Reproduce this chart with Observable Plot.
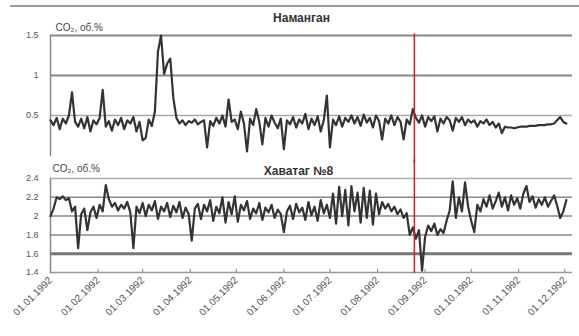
<!DOCTYPE html>
<html><head><meta charset="utf-8">
<script src="https://cdn.jsdelivr.net/npm/d3@7"></script>
<script src="https://cdn.jsdelivr.net/npm/@observablehq/plot@0.6"></script>
<style>
body{margin:0;background:#fff;font-family:"Liberation Sans",Arial,sans-serif;}
#wrap{position:relative;width:579px;height:336px;overflow:hidden;background:#fff;}
#border{position:absolute;left:10px;top:5px;width:569px;height:2px;background:#9a9a9a;z-index:3;}
#top,#bot{position:absolute;left:0;}
#top{top:0;z-index:1}
#bot{top:160px;z-index:2}
</style></head><body>
<div id="wrap"><div id="border"></div><div id="top"></div><div id="bot"></div></div>
<script>
const titles = ["Наманган", "Хаватаг №8"];
const yLabel = "CO₂, об.%";
const startDate = "1992-01-01";
const stepDays = 2;
const xDomain = ["1992-01-01", "1992-12-06"];
const eventDate = "1992-08-25";
const monthTicks = ["1992-01-01","1992-02-01","1992-03-01","1992-04-01","1992-05-01","1992-06-01",
  "1992-07-01","1992-08-01","1992-09-01","1992-10-01","1992-11-01","1992-12-01"];
const topTicks = [0.5, 1, 1.5];
const botTicks = [1.4, 1.6, 1.8, 2.0, 2.2, 2.4];

const namangan = [
  0.44,0.38,0.47,0.33,0.46,0.40,0.50,0.79,0.42,0.36,
  0.46,0.34,0.48,0.30,0.44,0.39,0.47,0.82,0.36,0.43,
  0.31,0.45,0.38,0.47,0.33,0.44,0.40,0.48,0.30,0.42,
  0.19,0.22,0.45,0.37,0.55,1.30,1.50,1.02,1.15,1.21,
  0.72,0.47,0.40,0.44,0.38,0.43,0.41,0.45,0.39,0.42,
  0.44,0.10,0.43,0.37,0.47,0.40,0.50,0.36,0.70,0.42,
  0.45,0.33,0.55,0.40,0.05,0.46,0.38,0.58,0.42,0.14,
  0.47,0.36,0.50,0.41,0.34,0.46,0.08,0.44,0.39,0.48,
  0.35,0.45,0.40,0.52,0.33,0.46,0.38,0.49,0.30,0.44,
  0.75,0.10,0.45,0.38,0.49,0.36,0.47,0.42,0.50,0.40,
  0.48,0.37,0.51,0.41,0.47,0.35,0.50,0.43,0.20,0.46,
  0.40,0.50,0.38,0.48,0.42,0.20,0.45,0.39,0.58,0.47,
  0.41,0.50,0.36,0.48,0.43,0.49,0.30,0.46,0.40,0.48,
  0.44,0.31,0.47,0.42,0.48,0.38,0.45,0.41,0.44,0.36,
  0.43,0.40,0.45,0.38,0.42,0.35,0.40,0.28,0.36,0.35,
  0.35,0.34,0.35,0.36,0.36,0.36,0.37,0.37,0.37,0.38,
  0.38,0.38,0.39,0.39,0.40,0.44,0.48,0.42,0.40
];
const khavatag = [
  2.00,2.08,2.20,2.18,2.21,2.17,2.19,2.05,2.10,1.66,
  2.02,2.08,1.85,2.04,2.10,1.98,2.12,2.05,2.33,2.18,
  2.10,2.14,2.06,2.12,2.08,2.15,2.04,1.66,2.10,2.03,
  2.14,2.00,2.12,2.06,2.16,1.97,2.10,2.05,2.14,1.99,
  2.11,2.04,2.15,1.98,2.09,2.02,1.74,2.08,2.13,1.97,
  2.12,2.05,2.17,1.95,2.10,2.03,2.20,1.93,2.15,2.02,
  2.21,1.94,2.12,2.06,2.16,1.97,2.08,2.03,2.14,1.96,
  2.09,2.04,2.12,1.98,2.07,2.02,1.83,2.05,2.11,1.97,
  2.13,2.04,2.09,1.96,2.15,2.01,2.10,1.95,2.17,2.03,
  2.12,1.98,2.24,1.92,2.31,2.00,2.28,1.90,2.32,2.05,
  2.25,1.93,2.30,1.98,2.27,1.91,2.24,2.02,2.15,2.08,
  2.13,2.05,2.10,2.02,2.07,1.98,2.03,1.80,1.88,1.76,
  1.85,1.42,1.78,1.90,1.84,1.92,1.80,1.86,1.82,1.95,
  2.06,2.37,1.98,2.20,2.05,2.36,2.10,1.95,1.83,2.12,
  2.05,2.18,2.10,2.22,2.08,2.16,2.25,2.10,2.20,2.06,
  2.22,2.12,2.19,2.08,2.24,2.32,2.15,2.21,2.09,2.18,
  2.12,2.20,2.10,2.16,2.22,2.11,1.98,2.05,2.17
];

const t0 = new Date(startDate);
const toRows = vals => vals.map((v, i) => ({date: d3.utcDay.offset(t0, i * stepDays), value: v}));
const topRows = toRows(namangan);
const botRows = toRows(khavatag);
const xdom = xDomain.map(d => new Date(d));
const ev = [new Date(eventDate)];
const months = monthTicks.map(d => new Date(d));
const font = "Liberation Sans, Arial, sans-serif";
const fmt = d3.format("~g");
const lineColor = "#333";
const lineWidth = 2.2;

const topPlot = Plot.plot({
  width: 579, height: 160,
  marginTop: 35, marginBottom: 5, marginLeft: 50, marginRight: 7,
  style: {fontFamily: font, fontSize: "9px", color: "#555", background: "transparent", overflow: "visible"},
  x: {type: "utc", domain: xdom, axis: null},
  y: {domain: [0, 1.5], axis: null},
  marks: [
    Plot.ruleY(topTicks.filter(d => d < 1), {stroke: "#aaa", strokeWidth: 1.5}),
    Plot.ruleY(topTicks.filter(d => d >= 1), {stroke: "#888", strokeWidth: 2}),
    Plot.frame({anchor: "left", stroke: "#888", strokeWidth: 1.5}),
    Plot.axisY(topTicks, {tickSize: 0, tickPadding: 12, tickFormat: fmt, fontSize: 9, label: null}),
    Plot.line(topRows, {x: "date", y: "value", stroke: lineColor, strokeWidth: lineWidth}),
    Plot.ruleX(ev, {x: d => d, y1: 1.52, y2: -0.1, stroke: "#d02020", strokeWidth: 1.5}),
    Plot.text([titles[0]], {text: d => d, frameAnchor: "top", lineAnchor: "middle", dy: -17, dx: -10, fontSize: 12, fontWeight: "bold", fill: "#333"}),
    Plot.text([yLabel], {text: d => d, frameAnchor: "top-left", lineAnchor: "middle", textAnchor: "start", dx: 5, dy: -8, fontSize: 10, fill: "#444"})
  ]
});
document.getElementById("top").append(topPlot);

const botPlot = Plot.plot({
  width: 579, height: 176,
  marginTop: 18, marginBottom: 64, marginLeft: 50, marginRight: 7,
  style: {fontFamily: font, fontSize: "9px", color: "#555", background: "transparent", overflow: "visible"},
  x: {type: "utc", domain: xdom},
  y: {domain: [1.4, 2.4]},
  marks: [
    Plot.ruleY(botTicks.filter(d => d > 1.7 && d < 2.3), {stroke: "#888", strokeWidth: 1.5}),
    Plot.ruleY(botTicks.filter(d => d > 2.3), {stroke: "#b0b0b0", strokeWidth: 1.5}),
    Plot.ruleY(botTicks.filter(d => d > 1.5 && d < 1.7), {stroke: "#777", strokeWidth: 3}),
    Plot.ruleY(botTicks.filter(d => d < 1.5), {stroke: "#999", strokeWidth: 1.5}),
    Plot.frame({anchor: "left", stroke: "#888", strokeWidth: 1.5}),
    Plot.ruleX(months, {x: d => d, y1: 1.4, y2: 1.435, stroke: "#888", strokeWidth: 1}),
    Plot.axisY(botTicks, {tickSize: 0, tickPadding: 12, tickFormat: fmt, fontSize: 9, label: null}),
    Plot.axisX(months, {tickSize: 0, tickPadding: 6, tickRotate: -45, tickFormat: d3.utcFormat("%d.%m.%Y"), fontSize: 10, label: null}),
    Plot.line(botRows, {x: "date", y: "value", stroke: lineColor, strokeWidth: lineWidth}),
    Plot.ruleX(ev, {x: d => d, y1: 2.6, y2: 1.39, stroke: "#d02020", strokeWidth: 1.5}),
    Plot.text([titles[1]], {text: d => d, frameAnchor: "top", lineAnchor: "middle", dy: -7, dx: -13, fontSize: 12, fontWeight: "bold", fill: "#333"}),
    Plot.text([yLabel], {text: d => d, frameAnchor: "top-left", lineAnchor: "middle", textAnchor: "start", dx: 2, dy: -10, fontSize: 10, fill: "#444"})
  ]
});
document.getElementById("bot").append(botPlot);
</script>
</body></html>
